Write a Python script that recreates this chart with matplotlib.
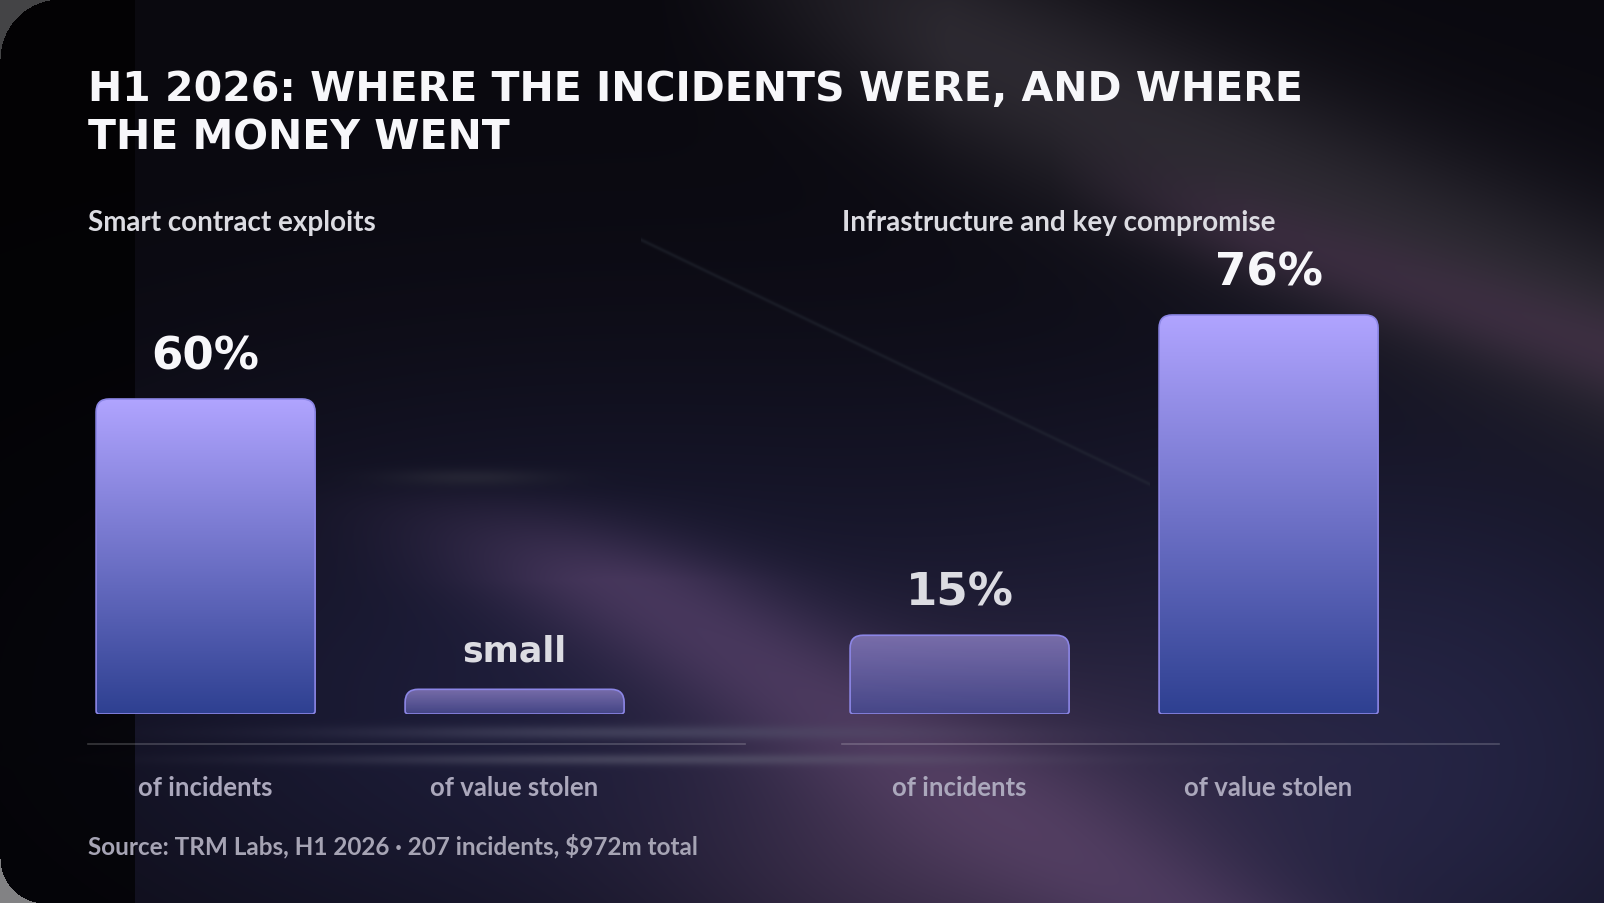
import numpy as np
import matplotlib
matplotlib.use("Agg")
import matplotlib.pyplot as plt
from matplotlib.path import Path
from matplotlib.patches import PathPatch
from matplotlib.transforms import IdentityTransform

# ---------------- data ----------------
title = "H1 2026: WHERE THE INCIDENTS WERE, AND WHERE\nTHE MONEY WENT"
panel_titles = ["Smart contract exploits", "Infrastructure and key compromise"]
categories = ["of incidents", "of value stolen"]
smart_values = [60, 4.7]          # "small" share of value stolen
infra_values = [15, 76]
smart_labels = ["60%", "small"]
infra_labels = ["15%", "76%"]
source = "Source: TRM Labs, H1 2026 \u00b7 207 incidents, $972m total"

# ---------------- figure ----------------
W, H = 1604, 904
fig = plt.figure(figsize=(W / 100, H / 100), dpi=100)

# ---------------- decorative background ----------------
yy, xx = np.mgrid[0:H, 0:W].astype(float)
img = np.zeros((H, W, 3))
img[:] = [10, 9, 15]


def blend(mask, color):
    global img
    mask = np.clip(mask, 0, 1)[..., None]
    img = img * (1 - mask) + np.array(color, float) * mask


def gauss(cx, cy, sx, sy):
    return np.exp(-(((xx - cx) / sx) ** 2 + ((yy - cy) / sy) ** 2) / 2)


def line_band(p0, p1, sigma):
    (x0, y0), (x1, y1) = p0, p1
    dx, dy = x1 - x0, y1 - y0
    d = np.abs((xx - x0) * dy - (yy - y0) * dx) / np.hypot(dx, dy)
    return np.exp(-(d / sigma) ** 2 / 2)


blend(0.9 * gauss(560, 700, 420, 220), (30, 30, 60))
blend(0.9 * gauss(1400, 760, 320, 260), (38, 38, 72))
blend(0.7 * line_band((720, -60), (1604, 330), 75) * np.clip((xx - 650) / 300, 0, 1), (58, 54, 62))
blend(0.45 * line_band((1000, 150), (1604, 350), 30) * np.clip((xx - 1050) / 200, 0, 1), (78, 52, 82))
blend(0.7 * line_band((520, 520), (1150, 904), 55) * np.clip((yy - 480) / 100, 0, 1), (88, 66, 108))
blend(0.6 * gauss(960, 840, 200, 120), (92, 68, 102))
blend(0.35 * line_band((640, 240), (1150, 485), 1.3) * ((xx > 640) & (xx < 1150)), (45, 52, 62))
blend(0.55 * gauss(640, 733, 200, 5), (85, 85, 110))
blend(0.5 * gauss(660, 760, 230, 4), (100, 100, 120))
blend(0.45 * gauss(470, 478, 60, 6), (55, 55, 66))
img[:, :135] *= 0.3
# rounded card corners
r1 = 60
m1 = (xx < r1) & (yy < r1) & (np.hypot(xx - r1, yy - r1) > r1)
img[m1] = [68, 68, 70]
r2 = 45
m2 = (xx < r2) & (yy > H - r2) & (np.hypot(xx - r2, yy - (H - r2)) > r2)
img[m2] = [130, 130, 132]

bg = fig.add_axes([0, 0, 1, 1])
bg.imshow(img.astype(np.uint8), extent=(0, W, H, 0), aspect="auto", interpolation="bilinear")
bg.set_xlim(0, W)
bg.set_ylim(H, 0)
bg.axis("off")

# ---------------- text (figure pixel coords via bg axes) ----------------
TITLE_FONT = dict(family="DejaVu Sans", weight="bold")
UI_FONT = dict(family=["Lato", "DejaVu Sans"], weight="bold")

for j, line in enumerate(title.split("\n")):
    bg.text(88, 90 + 48 * j, line, color="#F7F7FA", fontsize=29.5, va="center", ha="left",
            **TITLE_FONT)

# ---------------- panels ----------------
px_per_unit = 5.25
bar_bottom = 715
panel_w = 657
panel_x = [88, 842]
spacing = 309
bar_off = 117.6
bar_w = 219 / spacing
ylim_top = 100

top_color = np.array([176, 164, 255]) / 255
bot_color = np.array([46, 64, 145]) / 255
mut_top = np.array([128, 116, 180]) / 255
mut_bot = np.array([70, 72, 140]) / 255
edge_color = "#8C86E6"

panel_values = [smart_values, infra_values]
panel_labels = [smart_labels, infra_labels]
muted = [[False, True], [True, False]]
label_colors = [["#F7F7FA", "#DCDCE2"], ["#DCDCE2", "#F7F7FA"]]

axes = []
for k in range(2):
    x0 = panel_x[k]
    h = ylim_top * px_per_unit
    ax = fig.add_axes([x0 / W, 1 - bar_bottom / H, panel_w / W, h / H])
    ax.set_xlim(-bar_off / spacing, (panel_w - bar_off) / spacing)
    ax.set_ylim(0, ylim_top)
    ax.axis("off")
    ax.patch.set_alpha(0)
    axes.append(ax)

fig.canvas.draw()


def rounded_top_path(ax, x_left, x_right, height, r=13, rb=3):
    (X0, Y0) = ax.transData.transform((x_left, 0))
    (X1, Y1) = ax.transData.transform((x_right, height))
    r = min(r, (Y1 - Y0) - rb)
    verts = [
        (X0 + rb, Y0), (X1 - rb, Y0), (X1, Y0), (X1, Y0 + rb),
        (X1, Y1 - r), (X1, Y1), (X1 - r, Y1),
        (X0 + r, Y1), (X0, Y1), (X0, Y1 - r),
        (X0, Y0 + rb), (X0, Y0), (X0 + rb, Y0), (X0 + rb, Y0),
    ]
    codes = [Path.MOVETO, Path.LINETO, Path.CURVE3, Path.CURVE3,
             Path.LINETO, Path.CURVE3, Path.CURVE3,
             Path.LINETO, Path.CURVE3, Path.CURVE3,
             Path.LINETO, Path.CURVE3, Path.CURVE3, Path.CLOSEPOLY]
    return Path(verts, codes)


for k, ax in enumerate(axes):
    xs = np.arange(len(categories))
    bars = ax.bar(xs, panel_values[k], width=bar_w, color="none", edgecolor="none")
    for i, b in enumerate(bars):
        xl, xr, hv = b.get_x(), b.get_x() + b.get_width(), b.get_height()
        path = rounded_top_path(ax, xl, xr, hv)
        if muted[k][i]:
            c_top, c_bot = mut_top, mut_bot
        else:
            c_top, c_bot = top_color, bot_color
        t = np.linspace(0, 1, 256)[:, None]
        grad = (c_bot[None, :] * (1 - t) + c_top[None, :] * t)[:, None, :]
        clip = PathPatch(path, transform=IdentityTransform(), facecolor="none", edgecolor="none")
        ax.add_patch(clip)
        im = ax.imshow(grad, extent=(xl, xr, 0, hv), origin="lower", aspect="auto",
                       interpolation="bilinear", zorder=2, alpha=0.92 if muted[k][i] else 1.0)
        im.set_clip_path(clip)
        ax.add_patch(PathPatch(path, transform=IdentityTransform(), facecolor="none",
                               edgecolor=edge_color, linewidth=1.2, zorder=3))
        is_pct = panel_labels[k][i].endswith("%")
        ax.annotate(panel_labels[k][i], (xs[i], hv), xytext=(0, 31 if is_pct else 28),
                    textcoords="offset points", ha="center", va="center",
                    color=label_colors[k][i], fontsize=32.5 if is_pct else 25,
                    zorder=4, **TITLE_FONT)
    ax.set_xlim(-bar_off / spacing, (panel_w - bar_off) / spacing)
    ax.set_ylim(0, ylim_top)

    # panel title
    x0 = panel_x[k]
    bg.text(x0, 223, panel_titles[k], color="#DCDCE2", fontsize=20, ha="left", va="center", **UI_FONT)
    # baseline separator
    bg.plot([x0, x0 + panel_w], [745, 745], color=(1, 1, 1, 0.2), linewidth=1.2)
    # category labels
    for i, cat in enumerate(categories):
        cx = x0 + bar_off + i * spacing
        bg.text(cx, 788, cat, color="#ABA8BC", fontsize=18.5, ha="center", va="center", **UI_FONT)

bg.text(88, 846, source, color="#A6A4B4", fontsize=17.5, ha="left", va="center", **UI_FONT)

fig.savefig("out.png", dpi=100)
